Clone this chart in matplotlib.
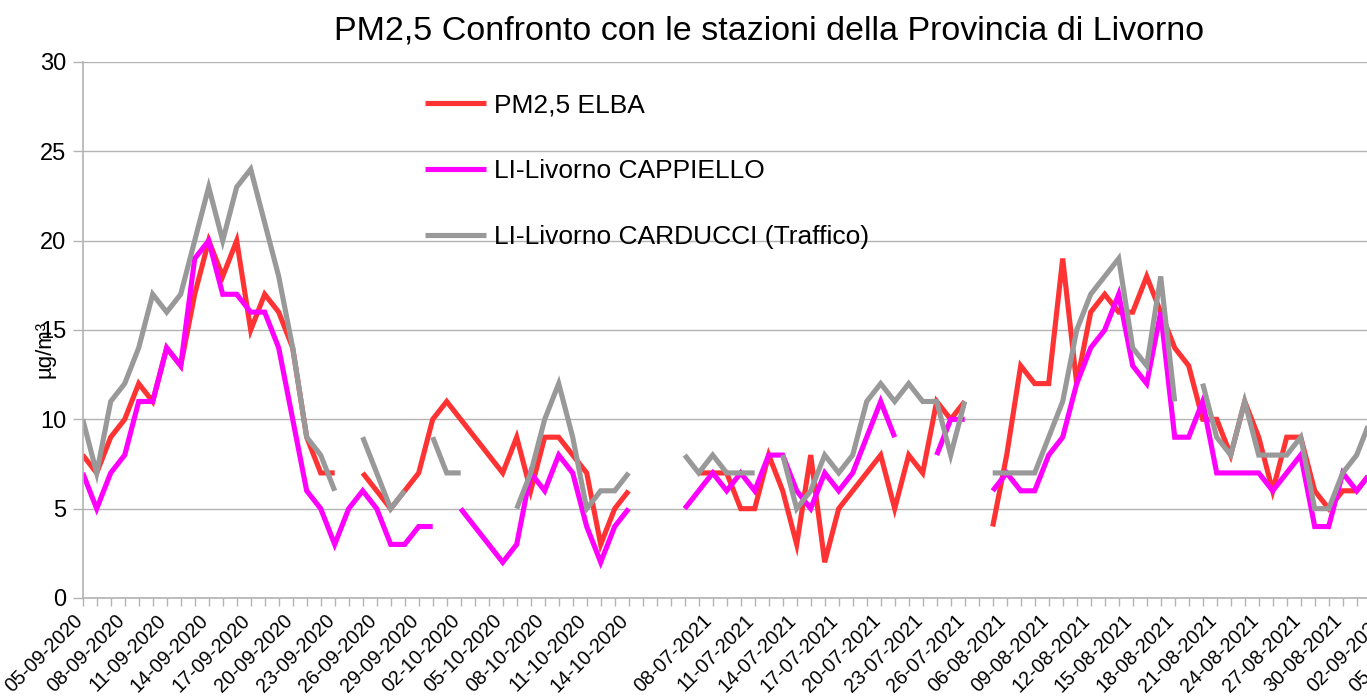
import numpy as np
import pandas as pd
import matplotlib
matplotlib.use('Agg')
import matplotlib.pyplot as plt
import matplotlib.transforms as mtransforms

n = np.nan

### categories of the sheet (empty rows kept as blank labels)
dates2020 = pd.date_range('2020-09-05', '2020-10-14').strftime('%d-%m-%Y').tolist()
datesJul = pd.date_range('2021-07-06', '2021-07-26').strftime('%d-%m-%Y').tolist()
datesAug = pd.date_range('2021-08-05', '2021-09-09').strftime('%d-%m-%Y').tolist()
categories = dates2020 + ['', '', ''] + datesJul + [''] + datesAug

### daily values in ug/m3
elba = [8, 7, 9, 10, 12, 11, 14, 13, 17, 20, 18, 20, 15, 17, 16, 14, 9, 7, 7, n,
        7, 6, 5, 6, 7, 10, 11, 10, 9, 8, 7, 9, 6, 9, 9, 8, 7, 3, 5, 6,
        n, n, n,
        n, 7, 7, 7, 5, 5, 8, 6, 3, 8, 2, 5, 6, 7, 8, 5, 8, 7, 11, 10, 11,
        n,
        4, 8, 13, 12, 12, 19, 12, 16, 17, 16, 16, 18, 16, 14, 13, 10, 10, 8, 11, 9, 6, 9, 9, 6, 5, 6, 6, 7]
cappiello = [7, 5, 7, 8, 11, 11, 14, 13, 19, 20, 17, 17, 16, 16, 14, 10, 6, 5, 3, 5,
             6, 5, 3, 3, 4, 4, n, 5, 4, 3, 2, 3, 7, 6, 8, 7, 4, 2, 4, 5,
             n, n, n,
             5, 6, 7, 6, 7, 6, 8, 8, 6, 5, 7, 6, 7, 9, 11, 9, n, n, 8, 10, 10,
             n,
             6, 7, 6, 6, 8, 9, 12, 14, 15, 17, 13, 12, 16, 9, 9, 11, 7, 7, 7, 7, 6, 7, 8, 4, 4, 7, 6, 7]
carducci = [10, 7, 11, 12, 14, 17, 16, 17, 20, 23, 20, 23, 24, 21, 18, 14, 9, 8, 6, n,
            9, 7, 5, 6, n, 9, 7, 7, n, n, n, 5, 7, 10, 12, 9, 5, 6, 6, 7,
            n, n, n,
            8, 7, 8, 7, 7, 7, n, 8, 5, 6, 8, 7, 8, 11, 12, 11, 12, 11, 11, 8, 11,
            n,
            7, 7, 7, 7, 9, 11, 15, 17, 18, 19, 14, 13, 18, 11, n, 12, 9, 8, 11, 8, 8, 8, 9, 5, 5, 7, 8, 10]

seriesNames = ['PM2,5 ELBA', 'LI-Livorno CAPPIELLO', 'LI-Livorno CARDUCCI (Traffico)']
seriesColors = ['#ff3333', '#ff00ff', '#999999']

def padded(values):
    out = np.full(len(categories), np.nan)
    out[:len(values)] = values
    return out

W, H = 1367, 700
fig = plt.figure(figsize=(W/100, H/100), dpi=100)
plt.rcParams['font.family'] = ['Liberation Sans', 'DejaVu Sans']

### plot area runs past the right border of the picture (chart is cropped)
left, bottom, top = 82.7, 598, 62
step = 14.0
nCat = len(categories)
axW = step*(nCat-1)
ax = fig.add_axes([left/W, 1-bottom/H, axW/W, (bottom-top)/H])

xs = np.arange(nCat)
for vals, name, col in zip([elba, cappiello, carducci], seriesNames, seriesColors):
    ax.plot(xs, padded(vals), color=col, linewidth=3.7, label=name,
            solid_capstyle='butt', solid_joinstyle='miter')

ax.set_xlim(0, nCat-1)
ax.set_ylim(0, 30)
ax.set_yticks(range(0, 31, 5))
ax.tick_params(axis='y', labelsize=17, length=7, color='#b3b3b3', width=1, pad=5)
ax.set_xticks(xs)
ax.set_xticklabels([c if i % 3 == 0 else '' for i, c in enumerate(categories)],
                   rotation=45, ha='right', va='top', rotation_mode='anchor', fontsize=14.2)
ax.tick_params(axis='x', length=6, color='#b3b3b3', width=1, pad=2)
### move the slanted labels so that their ends sit on the ticks
shift = mtransforms.ScaledTranslation(-0.10, -0.02, fig.dpi_scale_trans)
for lab in ax.get_xticklabels():
    lab.set_transform(lab.get_transform() + shift)
ax.grid(axis='y', color='#b3b3b3', linewidth=1)
ax.set_axisbelow(True)
for s in ['top', 'right']:
    ax.spines[s].set_visible(False)
for s in ['left', 'bottom']:
    ax.spines[s].set_color('#b3b3b3')
    ax.spines[s].set_linewidth(1.2)

fig.text(769/W, 1-31/H, 'PM2,5 Confronto con le stazioni della Provincia di Livorno',
         ha='center', va='center', fontsize=24.5)
fig.text(45/W, 1-349/H, 'µg/m³', rotation=90, ha='center', va='center', fontsize=16)

leg = ax.legend(loc='upper left', bbox_to_anchor=(425/W, 1-93/H), bbox_transform=fig.transFigure,
                frameon=False, fontsize=19, handlelength=2.3, handletextpad=0.3,
                labelspacing=1.6, borderpad=0, borderaxespad=0)

fig.savefig('out.png', dpi=100)
